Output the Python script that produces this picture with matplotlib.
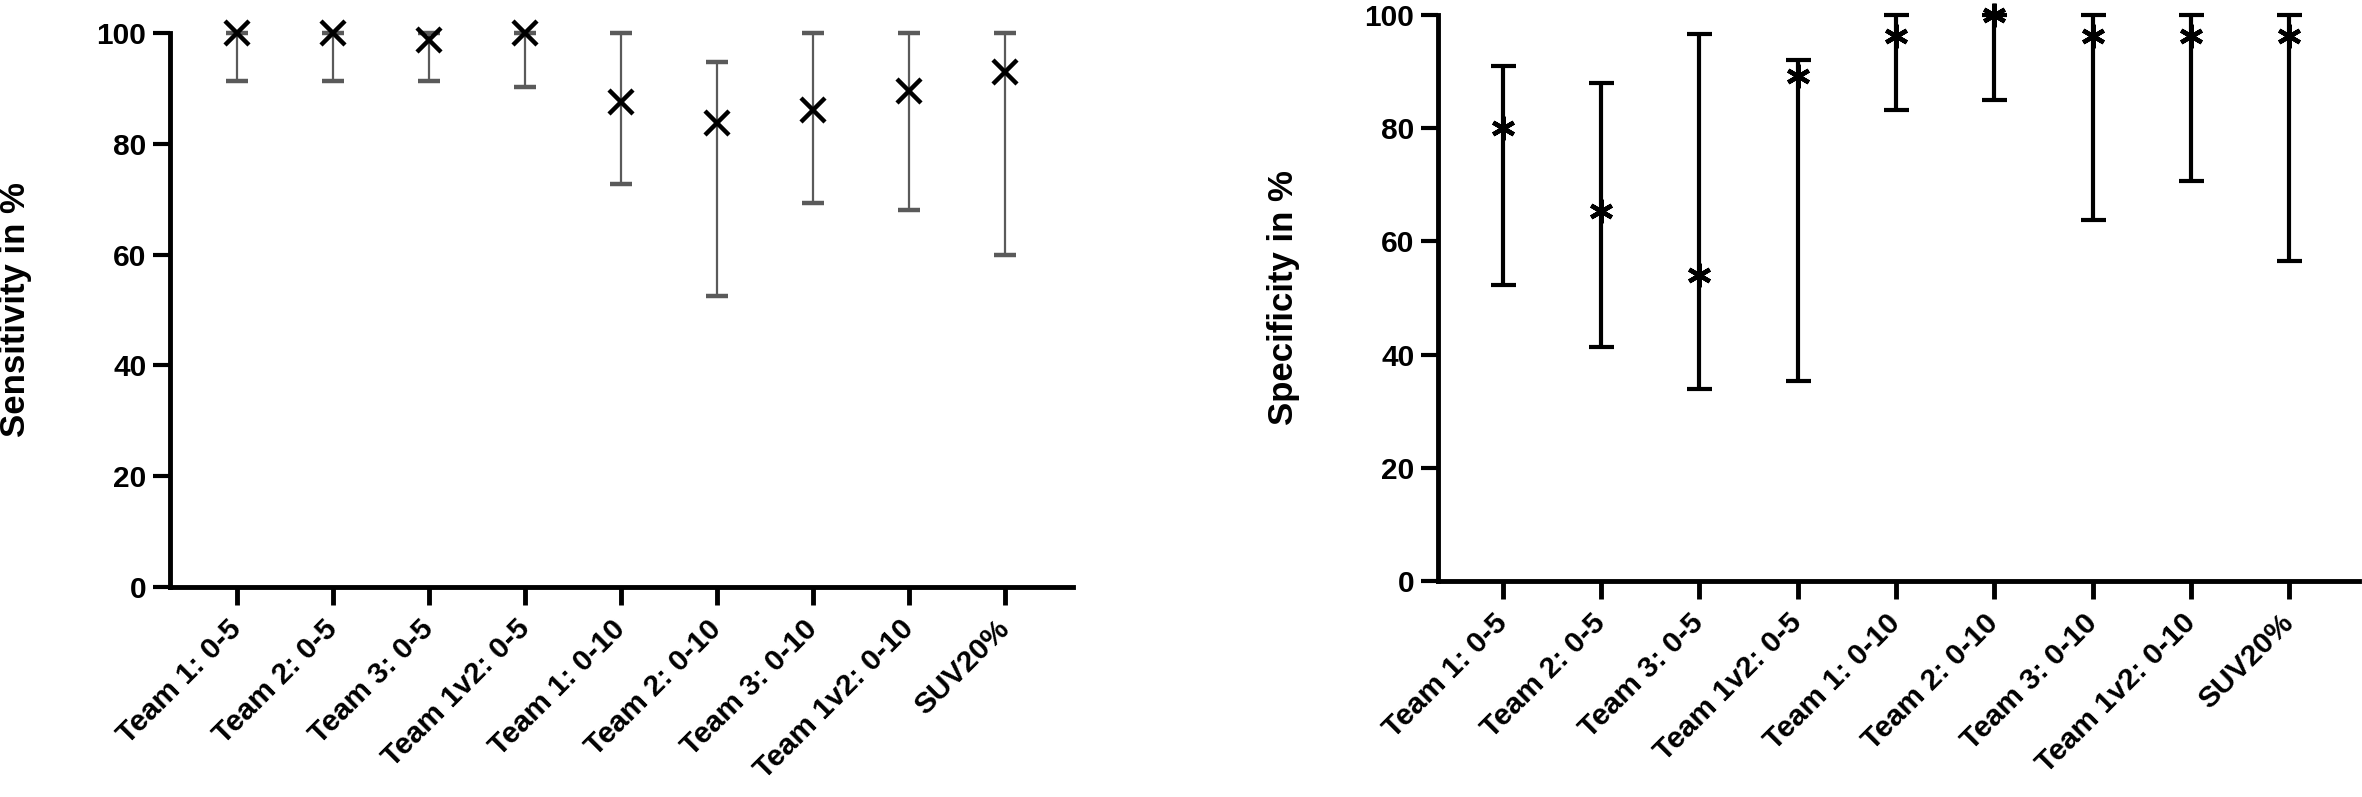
import numpy as np
import matplotlib
matplotlib.use("Agg")
import matplotlib.pyplot as plt

plt.rcParams["font.family"] = ["Liberation Sans", "DejaVu Sans"]
plt.rcParams["font.weight"] = "bold"

labels = ["Team 1: 0-5", "Team 2: 0-5", "Team 3: 0-5", "Team 1v2: 0-5",
          "Team 1: 0-10", "Team 2: 0-10", "Team 3: 0-10", "Team 1v2: 0-10",
          "SUV20%"]

# sensitivity (%) with 95% CI bounds
sens = [100, 100, 98.8, 100, 87.5, 83.7, 86.1, 89.6, 92.9]
sens_lo = [91.4, 91.4, 91.3, 90.2, 72.7, 52.5, 69.4, 68.0, 60.0]
sens_hi = [100, 100, 100, 100, 100, 94.8, 100, 100, 100]

# specificity (%) with 95% CI bounds
spec = [80.0, 65.3, 54.1, 89.2, 96.2, 100, 96.2, 96.2, 96.2]
spec_lo = [52.3, 41.4, 33.9, 35.4, 83.2, 85.0, 63.7, 70.7, 56.6]
spec_hi = [90.9, 88.0, 96.6, 92.1, 100, 100, 100, 100, 100]


def style_axes(ax, ylabel, xlim, label_x):
    ax.set_ylim(0, 100)
    ax.set_xlim(*xlim)
    ax.set_yticks(np.arange(0, 101, 20))
    ax.set_xticks(range(len(labels)))
    ax.set_xticklabels(labels, rotation=45, ha="right", va="center",
                       rotation_mode="anchor", fontsize=21.5, fontweight="bold")
    for t in ax.get_yticklabels():
        t.set_fontsize(21.5)
        t.set_fontweight("bold")
    for side in ["top", "right"]:
        ax.spines[side].set_visible(False)
    for side in ["left", "bottom"]:
        ax.spines[side].set_linewidth(3.5)
    ax.tick_params(axis="y", length=12, width=3, pad=5)
    ax.tick_params(axis="x", length=13, width=3.5, pad=14)
    ax.set_ylabel(ylabel, fontsize=25, fontweight="bold")
    ax.yaxis.set_label_coords(label_x, 0.5)


fig = plt.figure(figsize=(23.62, 7.97), dpi=100)

ax1 = fig.add_axes([0.0720, 0.2635, 0.3823, 0.6951])
x = np.arange(len(labels))
s = np.array(sens)
err1 = [s - np.array(sens_lo), np.array(sens_hi) - s]
eb = ax1.errorbar(x, s, yerr=err1, fmt="x", color="black", ms=17, mew=3.2,
                  ecolor="#5a5a5a", elinewidth=1.6, capsize=8, capthick=1.6,
                  zorder=3)
for art in eb.lines[1] + eb.lines[2] + (eb.lines[0],):
    art.set_clip_on(False)
style_axes(ax1, "Sensitivity in %", (-0.70, 8.71), -0.153)

ax2 = fig.add_axes([0.6088, 0.2710, 0.3899, 0.7102])
p = np.array(spec)
err2 = [p - np.array(spec_lo), np.array(spec_hi) - p]
eb = ax2.errorbar(x, p, yerr=err2, fmt="none", ecolor="black",
                  elinewidth=3, capsize=9, capthick=3, zorder=2)
for art in eb.lines[1] + eb.lines[2]:
    art.set_clip_on(False)
ax2.plot(x, p, linestyle="none", marker=(6, 2, 0), ms=17, mew=3.2,
         color="black", zorder=3, clip_on=False)
style_axes(ax2, "Specificity in %", (-0.66, 8.71), -0.150)

fig.savefig("out.png", dpi=100)
